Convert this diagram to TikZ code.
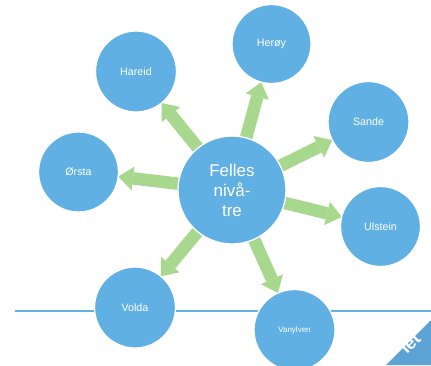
\documentclass[tikz,border=0pt]{standalone}
\usepackage{fontspec}
\setmainfont{Liberation Sans}
\usetikzlibrary{calc}
\definecolor{cblue}{RGB}{97,176,228}
\definecolor{lblue}{RGB}{98,178,228}
\definecolor{agreen}{RGB}{168,216,142}
\definecolor{logoblue}{RGB}{92,162,212}
\tikzset{
  sat/.style={circle, fill=cblue, draw=white, line width=1.3pt, inner sep=0pt,
              minimum size=#1, text=white, font=\fontsize{10.7}{12}\selectfont},
  hub/.style={circle, fill=cblue, draw=white, line width=1.3pt, inner sep=0pt,
              minimum size=108pt, text=white, align=center,
              font=\fontsize{17}{20}\selectfont},
  shaft/.style={draw=agreen, line width=12.5pt},
  headfill/.style={fill=agreen},
  baseline/.style={draw=lblue, line width=2pt},
}
\newcommand\garrow[3]{%
  \coordinate (tip) at ($(#2)!#3!(#1)$);
  \coordinate (hb) at ($(#2)!#3+15pt!(#1)$);
  \draw[shaft] (#1.center) -- (hb);
  \fill[headfill] (tip) -- ($(hb)!12pt!90:(tip)$) -- ($(hb)!12pt!-90:(tip)$) -- cycle;
}
\begin{document}
\begin{tikzpicture}[x=1pt,y=-1pt]
\useasboundingbox (0,0) rectangle (431,365);
\begin{scope}
\clip (0,0) rectangle (431,365);
% baseline
\coordinate (la) at (15,311);
\coordinate (lb) at (431,311);
\draw[baseline] (la) -- (lb);
% node positions
\coordinate (c) at (232,190);
\coordinate (hareid) at (136,71.5);
\coordinate (heroy) at (271.5,44);
\coordinate (sande) at (368.5,122);
\coordinate (orsta) at (78.5,172);
\coordinate (ulstein) at (380.5,226.5);
\coordinate (volda) at (135,307.5);
\coordinate (vanylven) at (294.5,330);
% arrows
\garrow{c}{hareid}{40.5pt}
\garrow{c}{heroy}{39.5pt}
\garrow{c}{sande}{40.5pt}
\garrow{c}{orsta}{40pt}
\garrow{c}{ulstein}{40pt}
\garrow{c}{volda}{40.5pt}
\garrow{c}{vanylven}{40.5pt}
% circles
\node[sat=81pt] (nhareid) at (hareid) {Hareid};
\node[sat=79pt] (nheroy) at (heroy) {Herøy};
\node[sat=81pt] (nsande) at (sande) {Sande};
\node[sat=80pt] (norsta) at (orsta) {Ørsta};
\node[sat=80pt] (nulstein) at (ulstein) {Ulstein};
\node[sat=81pt] (nvolda) at (volda) {Volda};
\node[sat=81pt, font=\fontsize{8}{9}\selectfont] (nvanylven) at (vanylven) {Vanylven};
\node[hub] (nc) at (c) {Felles\\nivå-\\tre};
% logo fragment
\coordinate (g1) at (386,365);
\coordinate (g2) at (431,320);
\coordinate (g3) at (431,365);
\fill[logoblue] (g1) -- (g2) -- (g3) -- cycle;
\node[text=white, rotate=45, font=\bfseries\fontsize{18}{18}\selectfont, inner sep=0pt] (logo) at (410,343) {iet};
\end{scope}
\end{tikzpicture}
\end{document}
